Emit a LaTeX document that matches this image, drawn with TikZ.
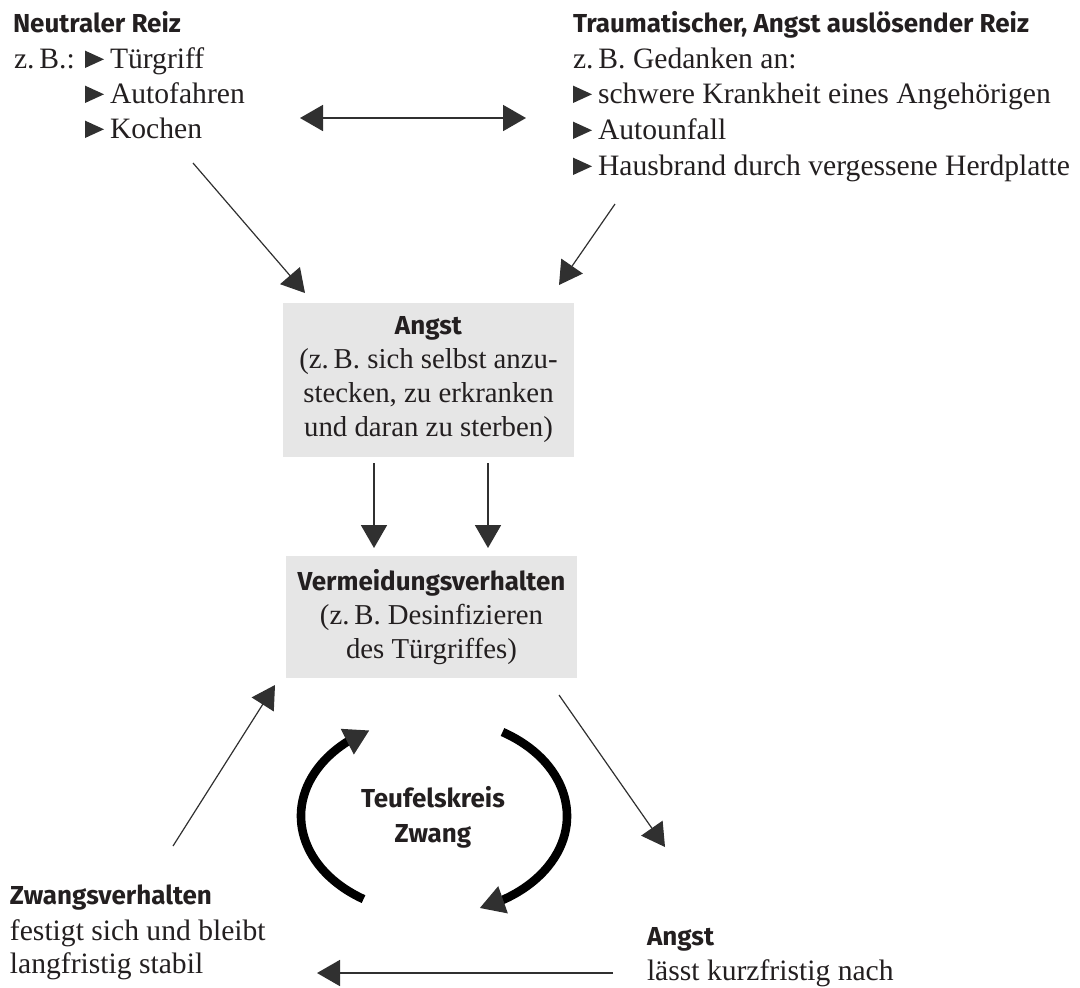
\documentclass[tikz,border=0pt]{standalone}
\usepackage{fontspec}
\setmainfont{Liberation Serif}
\newfontfamily\headfont{Fira Sans}
\usetikzlibrary{arrows.meta,bending}
\definecolor{txt}{HTML}{231F20}
\definecolor{arrgray}{HTML}{303030}
\definecolor{boxgray}{HTML}{E6E6E6}
\newcommand\bodyfnt{\fontsize{14.8pt}{17.75pt}\selectfont}
\newcommand\boxfnt{\fontsize{14.4pt}{17pt}\selectfont}
\newcommand\headfnt{\headfont\bfseries\fontsize{13pt}{17.5pt}\selectfont}
\newcommand\tri{\tikz[baseline=0pt]\fill[arrgray] (0pt,0pt) -- (0pt,8.7pt) -- (9.5pt,4.35pt) -- cycle;}
\tikzset{
  txtnode/.style={inner sep=0pt, outer sep=0pt, anchor=base west, text=txt},
  body/.style={txtnode, font=\bodyfnt},
  head/.style={txtnode, font=\headfnt},
  graybox/.style={fill=boxgray, inner sep=0pt, align=center, font=\boxfnt, text=txt},
  arr/.style={draw=arrgray, line width=0.9pt, ->},
  thinarr/.style={draw=arrgray, line width=0.6pt, ->},
  cycarr/.style={draw=black, line width=4.3pt,
    -{Triangle[length=12.5pt,width=13.5pt,color=arrgray]}},
}
\begin{document}
\begin{tikzpicture}[x=0.5pt, y=-0.5pt, >={Triangle[length=11.5pt,width=13pt]}]
\useasboundingbox (0,0) rectangle (1080,987);

% ---- top left: neutral stimulus
\node[head] (nrHead) at (13,32) {Neutraler Reiz};
\node[body] (nrZB) at (14,68) {z.\,B.:};
\node[body] (nr1) at (85,68) {\tri\hspace{3pt}Türgriff};
\node[body] (nr2) at (85,103) {\tri\hspace{3pt}Autofahren};
\node[body] (nr3) at (85,138) {\tri\hspace{3pt}Kochen};

% ---- top right: traumatic stimulus
\node[head] (trHead) at (573,32) {Traumatischer, Angst auslösender Reiz};
\node[body] (trZB) at (573,68) {z.\,B. Gedanken an:};
\node[body] (tr1) at (573,103) {\tri\hspace{3pt}schwere Krankheit eines Angehörigen};
\node[body] (tr2) at (573,139) {\tri\hspace{3pt}Autounfall};
\node[body] (tr3) at (573,175) {\tri\hspace{3pt}Hausbrand durch vergessene Herdplatte};

% ---- boxes
\node[graybox, minimum width=145.5pt, minimum height=77pt] (angstbox) at (428.5,380)
  {{\headfnt Angst}\\(z.\,B. sich selbst anzu-\\stecken, zu erkranken\\und daran zu sterben)};
\node[graybox, minimum width=145.5pt, minimum height=61pt] (vermbox) at (431.5,617)
  {{\headfnt Vermeidungsverhalten}\\(z.\,B. Desinfizieren\\des Türgriffes)};

% ---- circle text
\node[head, anchor=center, align=center] (circ) at (433,817) {Teufelskreis\\Zwang};

% ---- bottom texts
\node[head] (zvHead) at (10,904) {Zwangsverhalten};
\node[body] (zv1) at (10,940) {festigt sich und bleibt};
\node[body] (zv2) at (10,973) {langfristig stabil};
\node[head] (agHead) at (647,945) {Angst};
\node[body] (ag1) at (647,980) {lässt kurzfristig nach};

% ---- connector end points
\coordinate (dblL) at (300,118);
\coordinate (dblR) at (526,118);
\coordinate (kochS) at (193,163);
\coordinate (kochE) at (305,293);
\coordinate (herdS) at (615,204);
\coordinate (herdE) at (559,285);
\coordinate (d1S) at (374,463);
\coordinate (d1E) at (374,548);
\coordinate (d2S) at (488,463);
\coordinate (d2E) at (488,548);
\coordinate (zvS) at (173,846);
\coordinate (zvE) at (275,685);
\coordinate (agS) at (559,695);
\coordinate (agE) at (665,847);
\coordinate (botS) at (613,973);
\coordinate (botE) at (317,973);
\coordinate (cc) at (434,816);

% ---- connectors
\draw[arr, <->] (dblL) -- (dblR);
\draw[thinarr] (kochS) -- (kochE);
\draw[thinarr] (herdS) -- (herdE);
\draw[arr] (d1S) -- (d1E);
\draw[arr] (d2S) -- (d2E);
\draw[thinarr] (zvS) -- (zvE);
\draw[thinarr] (agS) -- (agE);
\draw[arr] (botS) -- (botE);

% ---- vicious circle arrows
\draw[cycarr] (cc) ++(122:133 and 98) arc[start angle=122, end angle=241, x radius=133, y radius=98];
\draw[cycarr] (cc) ++(-59:133 and 98) arc[start angle=-59, end angle=70, x radius=133, y radius=98];
\end{tikzpicture}
\end{document}
